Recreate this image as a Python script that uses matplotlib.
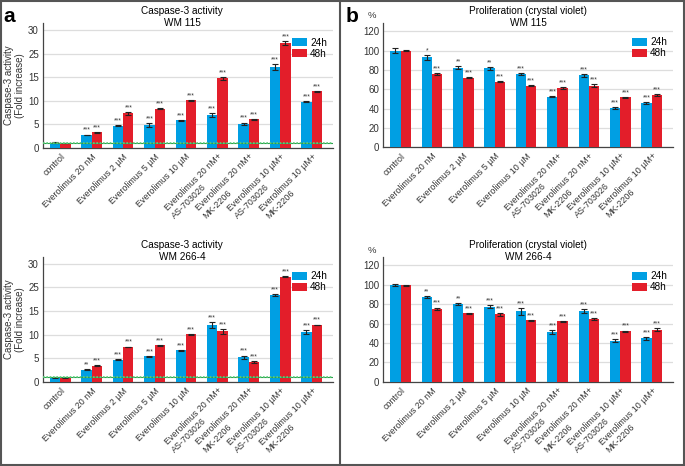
import numpy as np
import matplotlib
matplotlib.use("Agg")
import matplotlib.pyplot as plt
from matplotlib.lines import Line2D

plt.rcParams['font.family'] = ['Liberation Sans', 'DejaVu Sans']

BLUE = '#009fe3'
RED = '#e31e2a'

categories = ["control", "Everolimus 20 nM", "Everolimus 2 µM", "Everolimus 5 µM",
              "Everolimus 10 µM", "Everolimus 20 nM+\nAS-703026",
              "Everolimus 20 nM+\nMK-2206", "Everolimus 10 µM+\nAS-703026",
              "Everolimus 10 µM+\nMK-2206"]

# caspase-3 activity, WM 115
casp115_24 = [1.05, 2.7, 4.7, 4.8, 5.8, 6.95, 5.1, 19.4, 9.8]
casp115_48 = [1.0, 3.25, 7.3, 8.3, 10.1, 14.75, 6.0, 27.3, 12.0]
casp115_e24 = [0.1, 0.1, 0.15, 0.35, 0.15, 0.5, 0.25, 1.2, 0.15]
casp115_e48 = [0.1, 0.1, 0.35, 0.15, 0.1, 0.45, 0.15, 0.4, 0.1]
casp115_s24 = ["", "***", "***", "***", "***", "***", "***", "***", "***"]
casp115_s48 = ["", "***", "***", "***", "***", "***", "***", "***", "***"]

# caspase-3 activity, WM 266-4
casp266_24 = [1.05, 2.55, 4.75, 5.45, 6.7, 12.1, 5.2, 21.8, 10.6]
casp266_48 = [1.0, 3.4, 7.4, 7.8, 10.1, 10.7, 4.2, 27.3, 12.05]
casp266_e24 = [0.1, 0.1, 0.1, 0.1, 0.1, 0.6, 0.4, 0.3, 0.45]
casp266_e48 = [0.1, 0.1, 0.1, 0.1, 0.1, 0.45, 0.2, 0.15, 0.1]
casp266_s24 = ["", "**", "***", "***", "***", "***", "***", "***", "***"]
casp266_s48 = ["", "***", "***", "***", "***", "***", "***", "***", "***"]

# proliferation (crystal violet), WM 115
prol115_24 = [100, 93, 82.6, 81.6, 76.2, 52.4, 74.8, 40.8, 45.9]
prol115_48 = [100, 75.8, 72.1, 68.0, 63.6, 61.6, 63.6, 51.7, 54.1]
prol115_e24 = [2.5, 2.5, 2.0, 1.8, 1.0, 0.8, 1.5, 0.8, 0.8]
prol115_e48 = [0.6, 1.0, 0.8, 0.5, 0.5, 0.8, 1.5, 0.8, 0.8]
prol115_s24 = ["", "*", "**", "**", "***", "***", "***", "***", "***"]
prol115_s48 = ["", "***", "***", "***", "***", "***", "***", "***", "***"]

# proliferation (crystal violet), WM 266-4
prol266_24 = [99.5, 87.5, 80.5, 77.5, 72.5, 51.0, 72.8, 42.5, 44.9]
prol266_48 = [99.5, 75.5, 70.5, 69.8, 63.5, 62.2, 64.5, 52.0, 53.8]
prol266_e24 = [1.0, 0.8, 1.0, 1.5, 3.5, 2.0, 2.0, 1.2, 1.5]
prol266_e48 = [0.5, 1.0, 0.5, 1.5, 0.5, 0.5, 0.8, 0.8, 1.5]
prol266_s24 = ["", "**", "**", "***", "***", "***", "***", "***", "***"]
prol266_s48 = ["", "***", "***", "***", "***", "***", "***", "***", "***"]


def brk_fwd(v):
    v = np.asarray(v, dtype=float)
    return np.where(v <= 15, v, np.where(v <= 25, 15 + (v - 15) * 0.5, v - 5))


def brk_inv(p):
    p = np.asarray(p, dtype=float)
    return np.where(p <= 15, p, np.where(p <= 20, 15 + (p - 15) * 2, p + 5))


def bar_panel(ax, v24, v48, e24, e48, s24, s48, title, broken):
    x = np.arange(len(categories))
    w = 0.33
    if broken:
        ax.set_yscale('function', functions=(brk_fwd, brk_inv))
    ekw = dict(ecolor='#222222', elinewidth=0.8, capsize=2, capthick=0.8)
    ax.bar(x - w / 2, v24, w, yerr=e24, color=BLUE, label='24h', error_kw=ekw, zorder=3)
    ax.bar(x + w / 2, v48, w, yerr=e48, color=RED, label='48h', error_kw=ekw, zorder=3)
    for xi, v, e, s in zip(x - w / 2, v24, e24, s24):
        if s:
            ax.annotate(s, (xi, v + e), xytext=(0, 0.5), textcoords='offset points',
                        ha='center', va='bottom', fontsize=4.8, color='#333333', zorder=4)
    for xi, v, e, s in zip(x + w / 2, v48, e48, s48):
        if s:
            ax.annotate(s, (xi, v + e), xytext=(0, 0.5), textcoords='offset points',
                        ha='center', va='bottom', fontsize=4.8, color='#333333', zorder=4)
    if broken:
        ax.set_yticks([0, 5, 10, 15, 25, 30])
        ax.set_ylim(0, 31.5)
        ax.axhline(1, color='#2e9e4f', lw=0.8, zorder=4)
        ax.axhline(1, color='#5cd07a', lw=1.2, ls=(0, (1, 1)), zorder=4)
    else:
        ax.set_yticks([0, 20, 40, 60, 80, 100, 120])
        ax.set_ylim(0, 129)
    ax.set_xlim(-0.55, 8.68)
    ax.set_xticks(x)
    ax.set_xticklabels(categories, rotation=45, ha='right', va='top',
                       rotation_mode='anchor', fontsize=6.4, multialignment='left')
    ax.tick_params(axis='both', length=0, colors='#333333')
    ax.tick_params(axis='y', labelsize=7, pad=3)
    ax.tick_params(axis='x', pad=3)
    ax.grid(axis='y', color='#dddddd', lw=0.9, zorder=0)
    for sp in ('top', 'right'):
        ax.spines[sp].set_visible(False)
    for sp in ('left', 'bottom'):
        ax.spines[sp].set_color('#444444')
        ax.spines[sp].set_linewidth(0.9)
    ax.text(0.48 if broken else 0.5, 0.96, title, transform=ax.transAxes,
            ha='center', va='bottom', fontsize=7.2, linespacing=1.2)
    ax.legend(loc='upper right', bbox_to_anchor=(1.0, 0.93), fontsize=7.2, frameon=False,
              handlelength=1.5, handleheight=0.9, handletextpad=0.3, labelspacing=0.1,
              borderpad=0.1)


fig = plt.figure(figsize=(6.85, 4.66), dpi=100)
W, H = 685, 466


def add_ax(x0, x1, ytop, ybot):
    return fig.add_axes([x0 / W, 1 - ybot / H, (x1 - x0) / W, (ybot - ytop) / H])


ax1 = add_ax(43, 333, 23, 147.7)
ax2 = add_ax(43, 333, 256.7, 382)
ax3 = add_ax(383.3, 673, 22.7, 147.3)
ax4 = add_ax(383.3, 673, 256.7, 381.7)

bar_panel(ax1, casp115_24, casp115_48, casp115_e24, casp115_e48, casp115_s24, casp115_s48,
          "Caspase-3 activity\nWM 115", True)
bar_panel(ax2, casp266_24, casp266_48, casp266_e24, casp266_e48, casp266_s24, casp266_s48,
          "Caspase-3 activity\nWM 266-4", True)
bar_panel(ax3, prol115_24, prol115_48, prol115_e24, prol115_e48, prol115_s24, prol115_s48,
          "Proliferation (crystal violet)\nWM 115", False)
bar_panel(ax4, prol266_24, prol266_48, prol266_e24, prol266_e48, prol266_s24, prol266_s48,
          "Proliferation (crystal violet)\nWM 266-4", False)

for ax in (ax1, ax2):
    ax.set_ylabel("Caspase-3 activity\n(Fold increase)", fontsize=7, color='#333333',
                  linespacing=1.15)
    ax.yaxis.set_label_coords(-0.062, 0.5)
for ax, y in ((ax3, 15), (ax4, 250.7)):
    fig.text(372 / W, 1 - y / H, "%", fontsize=6.8, ha='center', va='center', color='#333333')

fig.text(3 / W, 1 - 17 / H, "a", fontsize=15, fontweight='bold', va='center', ha='left')
fig.text(346 / W, 1 - 17 / H, "b", fontsize=15, fontweight='bold', va='center', ha='left')

# frame and divider
fig.add_artist(plt.Rectangle((0.0015, 0.002), 0.997, 0.996, transform=fig.transFigure,
                             fill=False, ec='#555555', lw=1.5))
fig.add_artist(Line2D([340 / W, 340 / W], [0, 1], transform=fig.transFigure,
                      color='#555555', lw=1.5))

fig.savefig("out.png", dpi=100)
